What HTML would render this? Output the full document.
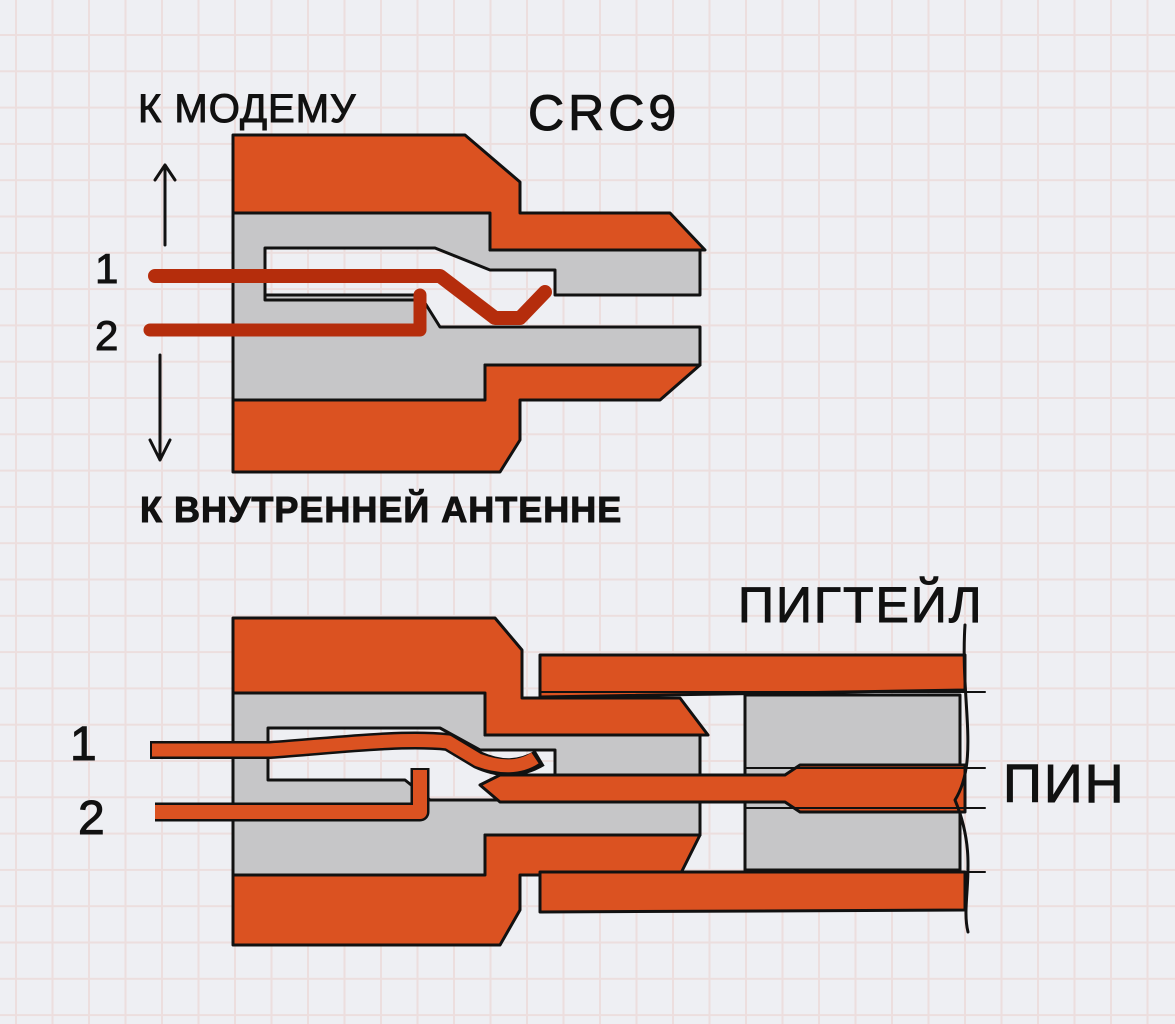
<!DOCTYPE html>
<html><head><meta charset="utf-8"><style>
html,body{margin:0;padding:0;background:#eeeff3;}
svg{display:block}
text{font-family:"Liberation Sans","DejaVu Sans",sans-serif;fill:#111;stroke:#111;stroke-width:1;}
</style></head><body>
<svg width="1175" height="1024" viewBox="0 0 1175 1024" xmlns="http://www.w3.org/2000/svg">
<defs>
<pattern id="g" x="15" y="34" width="36.5" height="36.3" patternUnits="userSpaceOnUse">
<path d="M1 0V36.3M0 1H36.5" stroke="#ecdede" stroke-width="2" fill="none"/>
</pattern>
</defs>
<rect width="1175" height="1024" fill="#eeeff3"/>
<rect width="1175" height="1024" fill="url(#g)"/>
<g stroke="#111" stroke-width="3" stroke-linejoin="round" stroke-linecap="round">
<!-- TOP CONNECTOR -->
<path d="M233 213 H490 V250 H700 V295 H555 V270 H490 L435 248 H265 V295 H420 L440 327 H700 V365 H485 V400 H233 Z" fill="#c6c6c8"/>
<path d="M233 135 H465 L520 182 V213 H670 L705 250 H490 V213 H233 Z" fill="#db5221"/>
<path d="M233 400 H485 V365 H700 L660 400 H520 V440 L500 472 H233 Z" fill="#db5221"/>
<path d="M265 250 V300 H420" fill="none"/>
<!-- wires top -->
<path d="M155 276 H440 L495 318 H520 L545 292" stroke="#b52d0c" stroke-width="14" fill="none"/>
<path d="M150 330 H420 V295" stroke="#b52d0c" stroke-width="13" fill="none"/>
<path d="M165 245 V165 M155 180 L165 165 L175 180" fill="none"/>
<path d="M160 355 V460 M150 440 L160 460 L170 440" fill="none"/>

<!-- BOTTOM CONNECTOR -->
<path d="M233 693 H485 V735 H700 V775 H555 V750 H480 L440 728 H268 V780 H405 L430 800 H700 V835 H485 V875 H233 Z" fill="#c6c6c8"/>
<path d="M233 618 H495 L522 650 V698 H680 L708 735 H485 V693 H233 Z" fill="#db5221"/>
<path d="M233 875 H485 V835 H700 L680 875 H520 V910 L500 945 H233 Z" fill="#db5221"/>
<!-- pigtail -->
<path d="M745 695 H960 V870 H745 Z" fill="#c6c6c8"/>
<path d="M540 655 H965 V690 L540 697 Z" fill="#db5221"/>
<path d="M540 872 H965 V910 L540 912 Z" fill="#db5221"/>
<path d="M480 785 L500 775 H785 L800 765 H965 V812 H800 L785 802 H500 Z" fill="#db5221"/>
<path d="M965 625 C960 700 980 760 955 800 C980 860 960 900 968 932" fill="none"/>
<path d="M540 692 H985 M540 872 H985 M745 768 H985 M745 808 H985" fill="none" stroke-width="2"/>
<!-- wires bottom -->
<path d="M150 750 H270 C330 746 400 737 448 742 L478 760 C500 770 520 770 540 758" stroke="#111" stroke-width="18" fill="none" stroke-linecap="butt"/>
<path d="M152 750 H270 C330 746 400 737 448 742 L478 760 C500 768 520 768 535 758" stroke="#db5221" stroke-width="13" fill="none" stroke-linecap="butt"/>
<path d="M155 812 H420 V768" stroke="#111" stroke-width="19" fill="none" stroke-linecap="butt"/>
<path d="M155 812 H420 V770" stroke="#db5221" stroke-width="14" fill="none" stroke-linecap="butt"/>
</g>
<text x="138" y="122" font-size="40" letter-spacing="1">К МОДЕМУ</text>
<text x="528" y="130" font-size="50" letter-spacing="4">CRC9</text>
<text x="95" y="283" font-size="42">1</text>
<text x="95" y="350" font-size="42">2</text>
<text x="140" y="522" font-size="36" font-weight="bold" letter-spacing="1">К ВНУТРЕННЕЙ АНТЕННЕ</text>
<text x="738" y="622" font-size="50" letter-spacing="2">ПИГТЕЙЛ</text>
<text x="1003" y="802" font-size="54" letter-spacing="2">ПИН</text>
<text x="70" y="760" font-size="48">1</text>
<text x="78" y="834" font-size="48">2</text>
</svg>
</body></html>
